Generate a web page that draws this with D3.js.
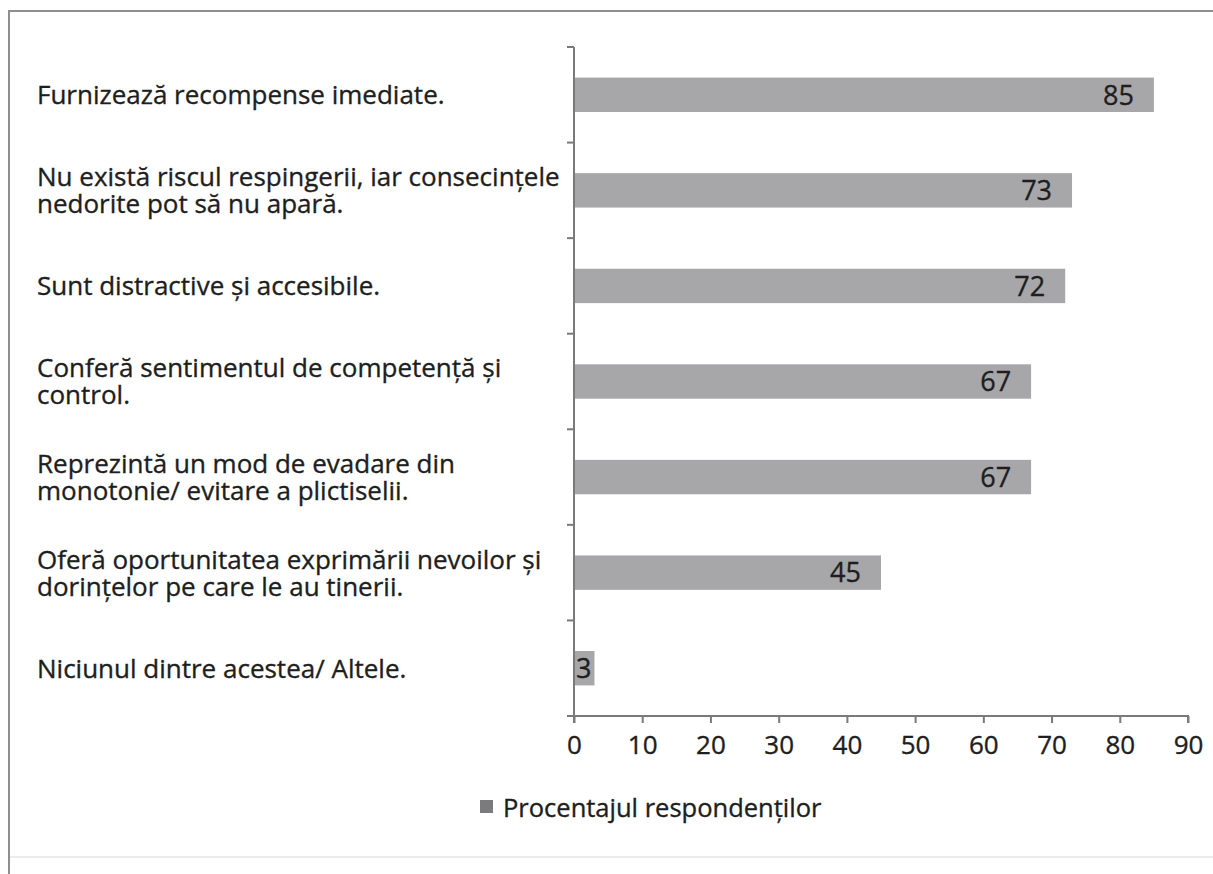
<!DOCTYPE html>
<html>
<head>
<meta charset="utf-8">
<script src="https://cdn.jsdelivr.net/npm/d3@7"></script>
<style>
  html, body { margin: 0; padding: 0; background: #fff; }
  svg { display: block; }
  text { font-family: "Open Sans", "Noto Sans", sans-serif; fill: #1e1e1e; stroke: #1e1e1e; stroke-width: 0.35px; }
</style>
</head>
<body>
<script>
const categories = [
  "Furnizează recompense imediate.",
  "Nu există riscul respingerii, iar consecințele\nnedorite pot să nu apară.",
  "Sunt distractive și accesibile.",
  "Conferă sentimentul de competență și\ncontrol.",
  "Reprezintă un mod de evadare din\nmonotonie/ evitare a plictiselii.",
  "Oferă oportunitatea exprimării nevoilor și\ndorințelor pe care le au tinerii.",
  "Niciunul dintre acestea/ Altele."
];
const values = [85, 73, 72, 67, 67, 45, 3];
const xTicks = [0, 10, 20, 30, 40, 50, 60, 70, 80, 90];
const seriesName = "Procentajul respondenților";

const W = 1213, H = 874;
const FONT = "'Open Sans', 'Noto Sans', sans-serif";
const svg = d3.select("body").append("svg").attr("width", W).attr("height", H);

// frame
svg.append("line").attr("x1", 9).attr("x2", W).attr("y1", 11).attr("y2", 11)
  .attr("stroke", "#8f8f8f").attr("stroke-width", 2);
svg.append("line").attr("x1", 9).attr("x2", 9).attr("y1", 10).attr("y2", H)
  .attr("stroke", "#8f8f8f").attr("stroke-width", 2);
svg.append("line").attr("x1", 10).attr("x2", W).attr("y1", 857).attr("y2", 857)
  .attr("stroke", "#ececec").attr("stroke-width", 2);

const x = d3.scaleLinear().domain([0, 90]).range([574, 1188]);
const y = d3.scaleBand().domain(categories).range([47, 716]).paddingInner(0.64).paddingOuter(0.32);

// bars
svg.append("g").selectAll("rect").data(values).join("rect")
  .attr("x", x(0))
  .attr("y", (d, i) => y(categories[i]))
  .attr("width", d => x(d) - x(0))
  .attr("height", y.bandwidth())
  .attr("fill", "#a7a7aa");

// value labels
svg.append("g").selectAll("text").data(values).join("text")
  .attr("x", d => (x(d) - x(0) < 40) ? x(d) - 3 : x(d) - 20)
  .attr("y", (d, i) => y(categories[i]) + y.bandwidth() / 2)
  .attr("dy", "0.36em")
  .attr("text-anchor", "end")
  .attr("font-size", 27)
  .text(d => d);

// y axis (boundary ticks between categories)
const yEdges = d3.range(categories.length + 1).map(i => 47 + i * (716 - 47) / categories.length);
const yAxisG = svg.append("g");
yAxisG.append("line").attr("x1", x(0)).attr("x2", x(0)).attr("y1", 47).attr("y2", 716)
  .attr("stroke", "#7a7a7a").attr("stroke-width", 2);
yAxisG.selectAll("line.t").data(yEdges).join("line").attr("class", "t")
  .attr("x1", x(0) - 7).attr("x2", x(0)).attr("y1", d => d).attr("y2", d => d)
  .attr("stroke", "#7a7a7a").attr("stroke-width", 2);

// x axis
const xAxis = d3.axisBottom(x).tickValues(xTicks).tickSize(7).tickPadding(13).tickFormat(d3.format("d"));
const xg = svg.append("g").attr("transform", "translate(0,716)").call(xAxis);
xg.select(".domain").attr("stroke", "#7a7a7a").attr("stroke-width", 2).attr("d", `M${x(0)},7V0H${x(90)}V7`);
xg.selectAll(".tick line").attr("stroke", "#7a7a7a").attr("stroke-width", 2);
xg.selectAll(".tick text").attr("font-size", 26).attr("fill", "#1e1e1e").attr("font-family", FONT);

// category labels
const lblG = svg.append("g");
categories.forEach((c, i) => {
  const lines = c.split("\n");
  const cy = y(c) + y.bandwidth() / 2;
  const lh = 27;
  lines.forEach((ln, j) => {
    lblG.append("text").attr("x", 37).attr("font-size", 26)
      .attr("y", cy + (j - (lines.length - 1) / 2) * lh)
      .attr("dy", "0.36em")
      .text(ln);
  });
});

// legend
const lg = svg.append("g");
lg.append("rect").attr("x", 480).attr("y", 800).attr("width", 13).attr("height", 13).attr("fill", "#7b7b7d");
lg.append("text").attr("x", 503).attr("y", 808).attr("dy", "0.36em").attr("font-size", 25.5).text(seriesName);
</script>
</body>
</html>
